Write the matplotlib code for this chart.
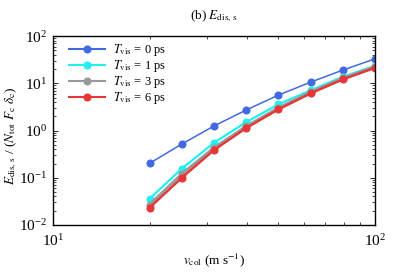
import numpy as np
import matplotlib
matplotlib.use("Agg")
import matplotlib.pyplot as plt
from matplotlib.ticker import LogLocator, NullFormatter

plt.rcParams['font.family'] = ['Liberation Serif', 'DejaVu Serif']
plt.rcParams['mathtext.fontset'] = 'stix'

# collision velocity (m/s)
v_col = [19.95, 25.12, 31.62, 39.81, 50.12, 63.10, 79.43, 100.0]

labels = [r"$T_{\rm vis}$ = 0 ps", r"$T_{\rm vis}$ = 1 ps",
          r"$T_{\rm vis}$ = 3 ps", r"$T_{\rm vis}$ = 6 ps"]
colors = ["#4169e1", "#22f0f0", "#999999", "#e83535"]
widths = [1.1, 1.6, 2.2, 1.7]

e_0ps = [0.202, 0.518, 1.25, 2.72, 5.64, 10.6, 19.1, 33.1]
e_1ps = [0.036, 0.156, 0.552, 1.51, 3.59, 7.1, 13.8, 23.5]
e_3ps = [0.027, 0.120, 0.43, 1.22, 3.0, 6.5, 12.8, 22.3]
e_6ps = [0.0232, 0.100, 0.386, 1.13, 2.81, 6.12, 12.1, 21.3]
series = [e_0ps, e_1ps, e_3ps, e_6ps]

fig = plt.figure(figsize=(3.99, 2.78), dpi=100)
ax = fig.add_axes([0.133, 0.191, 0.807, 0.679])

for y, lab, c, lw in zip(series, labels, colors, widths):
    ax.plot(v_col, y, '-o', color=c, lw=lw, ms=4.8, label=lab)

ax.set_xscale('log')
ax.set_yscale('log')
ax.set_xlim(10, 100)
ax.set_ylim(1e-2, 1e2)
ax.xaxis.set_minor_formatter(NullFormatter())
ax.yaxis.set_minor_locator(LogLocator(base=10, subs=np.arange(2, 10)))
ax.yaxis.set_minor_formatter(NullFormatter())

ax.tick_params(which='both', direction='in', top=True, right=True, labelsize=11)
ax.tick_params(which='major', length=3.5, width=0.6)
ax.tick_params(which='minor', length=2, width=0.5)
ax.tick_params(axis='x', pad=6)
ax.tick_params(axis='y', pad=4)
for s in ax.spines.values():
    s.set_linewidth(1.0)

ax.set_title(r"(b) $E_{\rm dis,\,s}$", fontsize=9.5, pad=12)
ax.set_xlabel(r"$v_{\rm col}$ (m s$^{-1}$)", fontsize=9.5, labelpad=2)
ax.set_ylabel(r"$E_{\rm dis,\,s}$ / ($N_{\rm tot}$ $F_{\rm c}$ $\delta_{\rm c}$)",
              fontsize=9.5)
ax.yaxis.set_label_coords(-0.105, 0.47)

leg = ax.legend(loc='upper left', frameon=False, fontsize=9, handlelength=2.9,
                labelspacing=0.0, borderaxespad=0.2, borderpad=0.3,
                handletextpad=0.6, bbox_to_anchor=(0.03, 1.0))
for h in leg.get_lines():
    h.set_linewidth(1.5)

fig.savefig("out.png", dpi=100)
